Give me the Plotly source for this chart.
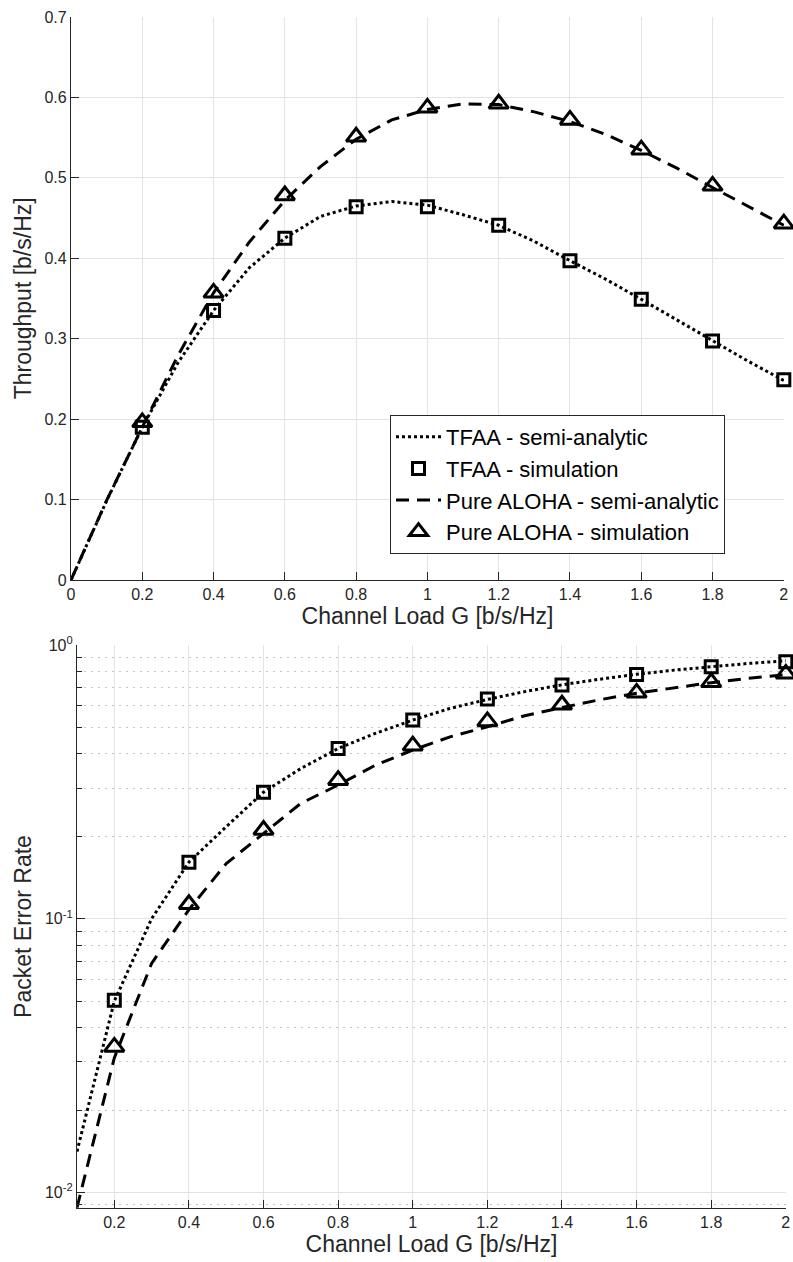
import plotly.graph_objects as go

# ---------------- data ----------------
G_curve = [0.0, 0.1, 0.2, 0.3, 0.4, 0.5, 0.6, 0.7, 0.8, 0.9, 1.0,
           1.1, 1.2, 1.3, 1.4, 1.5, 1.6, 1.7, 1.8, 1.9, 2.0]
tfaa_thr_curve = [0.0, 0.0986, 0.19, 0.27, 0.335, 0.388, 0.425, 0.452, 0.465, 0.4705, 0.466,
                  0.454, 0.441, 0.421, 0.397, 0.374, 0.349, 0.323, 0.297, 0.272, 0.248]
aloha_thr_curve = [0.0, 0.099, 0.19, 0.279, 0.357, 0.42, 0.472, 0.514, 0.548, 0.572, 0.585,
                   0.592, 0.591, 0.582, 0.570, 0.554, 0.534, 0.512, 0.488, 0.464, 0.441]

G_sim = [0.2, 0.4, 0.6, 0.8, 1.0, 1.2, 1.4, 1.6, 1.8, 2.0]
tfaa_thr_sim = [0.19, 0.335, 0.425, 0.464, 0.464, 0.441, 0.397, 0.349, 0.297, 0.249]
aloha_thr_sim = [0.196, 0.357, 0.478, 0.551, 0.587, 0.592, 0.572, 0.535, 0.49, 0.443]

G_per_curve = [0.1, 0.2, 0.3, 0.4, 0.5, 0.6, 0.7, 0.8, 0.9, 1.0,
               1.1, 1.2, 1.3, 1.4, 1.5, 1.6, 1.7, 1.8, 1.9, 2.0]
tfaa_per_curve = [0.0141, 0.05, 0.1, 0.161, 0.217, 0.29, 0.354, 0.419, 0.476, 0.532,
                  0.587, 0.633, 0.676, 0.716, 0.75, 0.782, 0.81, 0.835, 0.857, 0.876]
aloha_per_curve = [0.0088, 0.031, 0.0687, 0.108, 0.159, 0.205, 0.264, 0.308, 0.364, 0.4135,
                   0.462, 0.503, 0.552, 0.591, 0.631, 0.667, 0.699, 0.729, 0.756, 0.78]

tfaa_per_sim = [0.0504, 0.161, 0.29, 0.419, 0.532, 0.635, 0.714, 0.781, 0.833, 0.869]
aloha_per_sim = [0.034, 0.113, 0.211, 0.321, 0.429, 0.526, 0.605, 0.669, 0.731, 0.785]

names = ["TFAA - semi-analytic", "TFAA - simulation",
         "Pure ALOHA - semi-analytic", "Pure ALOHA - simulation"]

x_ticks_top = [0, 0.2, 0.4, 0.6, 0.8, 1, 1.2, 1.4, 1.6, 1.8, 2]
x_ticks_bot = [0.2, 0.4, 0.6, 0.8, 1, 1.2, 1.4, 1.6, 1.8, 2]
y_ticks_bot = [1, 0.1, 0.01]
y_tick_text_bot = ["10<sup>0</sup>", "10<sup>-1</sup>", "10<sup>-2</sup>"]

# ---------------- style ----------------
FONT = "Liberation Sans, Arial, Helvetica, sans-serif"
TXT = "#262626"
GRID = "#e3e3e3"
DOT = "3px,3px"
DASH = "13px,8px"

fig = go.Figure()


def add_set(xc, y1, y2, xs, s1, s2, xa, ya, legend):
    fig.add_trace(go.Scatter(x=xc, y=y1, mode="lines", name=names[0],
                             line=dict(color="black", width=3, dash=DOT),
                             xaxis=xa, yaxis=ya, showlegend=legend, cliponaxis=True))
    fig.add_trace(go.Scatter(x=xs, y=s1, mode="markers", name=names[1],
                             marker=dict(symbol="square-open", size=12, color="black",
                                         line=dict(width=3, color="black")),
                             xaxis=xa, yaxis=ya, showlegend=legend, cliponaxis=False))
    fig.add_trace(go.Scatter(x=xc, y=y2, mode="lines", name=names[2],
                             line=dict(color="black", width=3, dash=DASH),
                             xaxis=xa, yaxis=ya, showlegend=legend, cliponaxis=True))
    fig.add_trace(go.Scatter(x=xs, y=s2, mode="markers", name=names[3],
                             marker=dict(symbol="triangle-up-open", size=17, color="black",
                                         line=dict(width=3, color="black")),
                             xaxis=xa, yaxis=ya, showlegend=legend, cliponaxis=False))


add_set(G_curve, tfaa_thr_curve, aloha_thr_curve, G_sim, tfaa_thr_sim, aloha_thr_sim,
        "x", "y", True)
add_set(G_per_curve, tfaa_per_curve, aloha_per_curve, G_sim, tfaa_per_sim, aloha_per_sim,
        "x2", "y2", False)

W, H = 793, 1262
tick_font = dict(family=FONT, size=16, color=TXT)
title_font = dict(family=FONT, size=23, color=TXT)

common_axis = dict(showline=True, linecolor=TXT, linewidth=1.2, ticks="inside",
                   ticklen=8, tickcolor=TXT, showgrid=True, gridcolor=GRID,
                   gridwidth=1, zeroline=False, tickfont=tick_font, mirror=False,
                   automargin=False)

fig.update_layout(
    width=W, height=H,
    margin=dict(l=0, r=0, t=0, b=0, autoexpand=False),
    paper_bgcolor="white", plot_bgcolor="white",
    font=dict(family=FONT, color=TXT),
    xaxis=dict(domain=[71 / W, 784 / W], range=[0, 2.0005], tickvals=x_ticks_top,
               anchor="y", ticklabeloverflow="allow",
               title=dict(text="Channel Load G [b/s/Hz]", font=title_font, standoff=4),
               **common_axis),
    yaxis=dict(domain=[1 - 580 / H, 1 - 16.7 / H], range=[0, 0.7003], dtick=0.1,
               anchor="x",
               title=dict(text="Throughput [b/s/Hz]", font=title_font, standoff=6),
               **common_axis),
    xaxis2=dict(domain=[77 / W, 786 / W], range=[0.1, 2.0005], tickvals=x_ticks_bot,
                anchor="y2", ticklabeloverflow="allow",
                title=dict(text="Channel Load G [b/s/Hz]", font=title_font, standoff=4),
                **common_axis),
    yaxis2=dict(domain=[1 - 1208 / H, 1 - 645 / H], type="log", range=[-2.057, 0.0003],
                tickvals=y_ticks_bot, ticktext=y_tick_text_bot, anchor="x2",
                title=dict(text="Packet Error Rate", font=title_font, standoff=6),
                minor=dict(showgrid=True, gridcolor="#c4c4c4", griddash="2px,5px",
                           gridwidth=1,
                           ticks="inside", ticklen=5, tickcolor=TXT,
                           tickvals=[f * 10 ** e for e in (-3, -2, -1) for f in range(2, 10)]),
                **common_axis),
    legend=dict(x=390 / W, y=1 - 554 / H, xanchor="left", yanchor="bottom",
                bgcolor="white", bordercolor=TXT, borderwidth=1,
                font=dict(family=FONT, size=22, color="black"),
                itemwidth=45, tracegroupgap=0),
)

fig.write_html("out.html", config={"displayModeBar": False},
               post_script="document.body.style.margin='0px';document.body.style.padding='0px';")
